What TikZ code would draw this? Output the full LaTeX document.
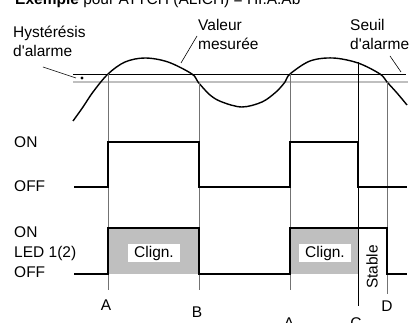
\documentclass[tikz,border=0pt]{standalone}
\usepackage{fontspec}
\setmainfont{Liberation Sans}
\usepackage{tikz}

\tikzset{
	lbl/.style={anchor=base west,inner sep=0pt,align=left,font=\fontsize{15.5}{19}\selectfont},
	mark letter/.style={anchor=base,inner sep=0pt,font=\fontsize{15.5}{19}\selectfont},
	wave/.style={line width=1.4pt,line join=miter},
	seuil/.style={line width=0.9pt},
	hyst/.style={line width=1.5pt,black!25},
	guide/.style={line width=0.6pt,black!55},
	leader/.style={line width=0.6pt},
	clign/.style={fill=white,inner sep=0pt,minimum width=52pt,minimum height=18pt,font=\fontsize{15.5}{19}\selectfont}
}

\begin{document}
\begin{tikzpicture}[x=1pt,y=-1pt]
	\useasboundingbox (0,0) rectangle (410,323);

	% texts (base = last line)
	\node[lbl] (title) at (15, 5)      {\textbf{Exemple} pour ATTCH (ALICH) = HI.A.Ab};
	\node[lbl] (hyst)  at (13, 57)     {Hystérésis\\d\textquotesingle alarme};
	\node[lbl] (val)   at (198, 50)    {Valeur\\mesurée};
	\node[lbl] (seuil) at (350, 50)    {Seuil\\d\textquotesingle alarme};
	\node[lbl] (on1)   at (14, 148)    {ON};
	\node[lbl] (off1)  at (14, 192)    {OFF};
	\node[lbl] (on2)   at (14, 238)    {ON};
	\node[lbl] (led)   at (14, 258)    {LED 1(2)};
	\node[lbl] (off2)  at (14, 278)    {OFF};

	% threshold and hysteresis
	\draw[hyst]  (73, 82) -- (408, 82);
	\draw[seuil] (73, 74) -- (406, 74);
	\fill (82, 78) circle (1.6pt);

	% measured value
	\draw[line width=1.4pt] plot[smooth,tension=0.55] coordinates {
		(73,121) (83,107) (93,92) (108,74) (125,62) (145,58) (168,62) (192,74)
		(198,82) (210,95) (222,102) (242,107) (262,102) (276,92) (285,82)
		(290,74) (310,61) (333,58) (358,63) (380,74) (387,82) (397,93) (407,105)};

	% points on the curve
	\coordinate (a1) at (108, 74);
	\coordinate (b)  at (199, 82);
	\coordinate (a2) at (290, 74);
	\coordinate (c)  at (358, 62);
	\coordinate (d)  at (387, 82);
	\coordinate (a1e) at (108, 290);
	\coordinate (be)  at (199, 290);
	\coordinate (a2e) at (290, 290);
	\coordinate (ce)  at (358, 306);
	\coordinate (de)  at (387, 294);

	% leaders
	\coordinate (hystTip) at (76, 78);
	\coordinate (valTip)  at (181, 63);
	\coordinate (seuilTip) at (401, 72);
	\draw[leader] (43, 67) -- (hystTip);
	\draw[leader] (197, 36) -- (valTip);
	\draw[leader] (390, 56) -- (seuilTip);

	% LED fill
	\fill[black!25] (108, 228) rectangle (199, 274);
	\fill[black!25] (290, 228) rectangle (358, 274);

	% guides
	\draw[guide] (a1) -- (a1e);
	\draw[guide] (b) -- (be);
	\draw[guide] (a2) -- (a2e);
	\draw[line width=0.7pt] (c) -- (ce);
	\draw[guide] (d) -- (de);

	% outputs
	\draw[wave] (74,187) -- (108,187) -- (108,142) -- (199,142) -- (199,187) -- (290,187) -- (290,142) -- (358,142) -- (358,187) -- (407,187);
	\draw[wave] (74,274) -- (108,274) -- (108,228) -- (199,228) -- (199,274) -- (290,274) -- (290,228) -- (387,228) -- (387,274) -- (407,274);

	\node[clign] (cl1) at (154, 253) {Clign.};
	\node[clign] (cl2) at (325, 253) {Clign.};
	\node[rotate=90,inner sep=0pt,font=\fontsize{15.5}{19}\selectfont] (stable) at (372, 267) {Stable};

	% letters
	\node[mark letter] (la1) at (106, 311) {A};
	\node[mark letter] (lb)  at (197, 318) {B};
	\node[mark letter] (la2) at (289, 328) {A};
	\node[mark letter] (lc)  at (356, 328) {C};
	\node[mark letter] (ld)  at (387, 312) {D};
\end{tikzpicture}
\end{document}
